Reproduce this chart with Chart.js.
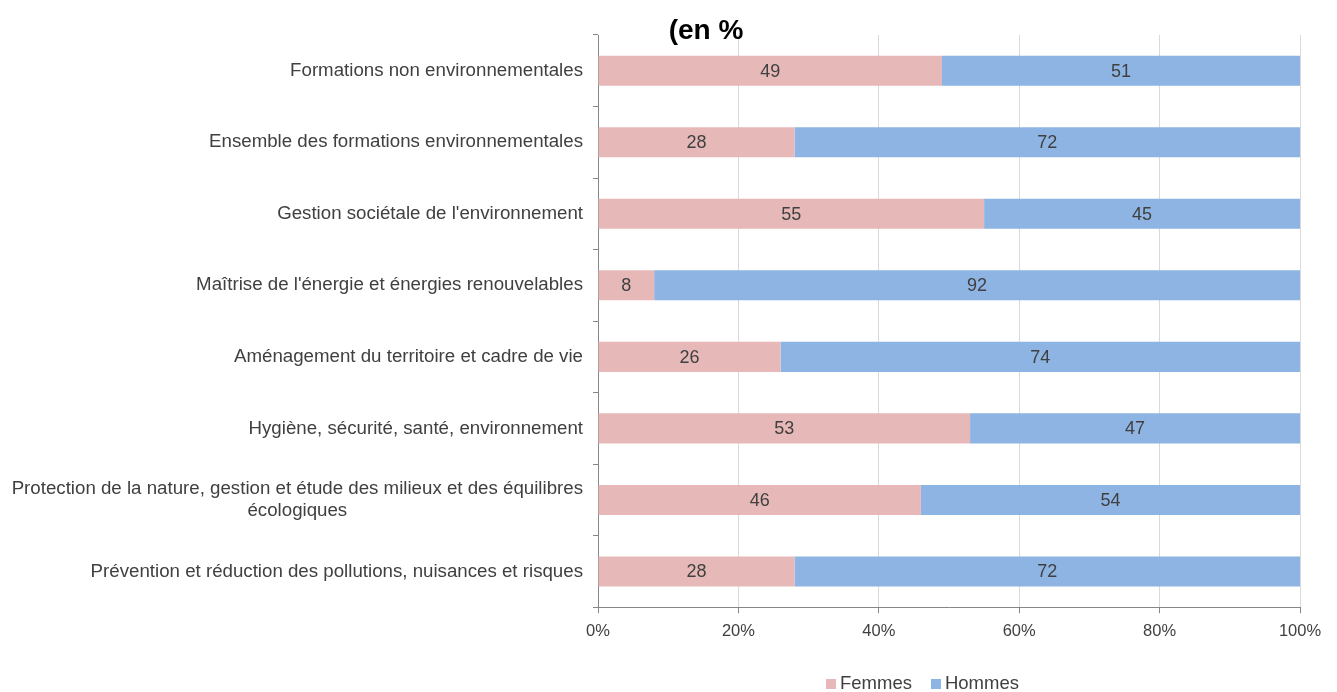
<!DOCTYPE html>
<html lang="fr">
<head>
    <meta charset="UTF-8">
    <title>Répartition femmes / hommes par formation</title>
    <script src="https://cdn.jsdelivr.net/npm/chart.js@4.4.0/dist/chart.umd.min.js"></script>
    <style>
        body {
            margin: 0;
            background: #ffffff;
        }
        .wrap {
            position: relative;
            width: 1337px;
            height: 692px;
        }
    </style>
</head>
<body>
    <div class="wrap">
        <canvas id="chart" width="1337" height="692"></canvas>
    </div>

    <script>
        const categories = [
            'Formations non environnementales',
            'Ensemble des formations environnementales',
            'Gestion sociétale de l\'environnement',
            'Maîtrise de l\'énergie et énergies renouvelables',
            'Aménagement du territoire et cadre de vie',
            'Hygiène, sécurité, santé, environnement',
            ['Protection de la nature, gestion et étude des milieux et des équilibres', 'écologiques'],
            'Prévention et réduction des pollutions, nuisances et risques'
        ];
        const femmes = [49, 28, 55, 8, 26, 53, 46, 28];
        const hommes = [51, 72, 45, 92, 74, 47, 54, 72];
        const xTicks = [0, 20, 40, 60, 80, 100];
        const titleText = '(en %';

        const textColor = '#404040';
        const fontFamily = '"Liberation Sans", Arial, sans-serif';
        const labelSize = 18.7;
        const labelLine = 22.4;
        const labelPad = 15;

        // values written in the middle of each bar segment
        const barValues = {
            id: 'barValues',
            afterDatasetsDraw(chart) {
                const ctx = chart.ctx;
                ctx.save();
                ctx.font = '18px ' + fontFamily;
                ctx.fillStyle = textColor;
                ctx.textAlign = 'center';
                ctx.textBaseline = 'middle';
                chart.data.datasets.forEach((ds, i) => {
                    chart.getDatasetMeta(i).data.forEach((bar, j) => {
                        const cx = (bar.x + bar.base) / 2;
                        ctx.fillText(ds.data[j], cx, bar.y + 1);
                    });
                });
                ctx.restore();
            }
        };

        // continuation lines of long category names, centred under their first line
        const wrappedLabels = {
            id: 'wrappedLabels',
            afterDraw(chart) {
                const ctx = chart.ctx;
                const y = chart.scales.y;
                ctx.save();
                ctx.font = labelSize + 'px ' + fontFamily;
                ctx.fillStyle = textColor;
                ctx.textAlign = 'center';
                ctx.textBaseline = 'middle';
                categories.forEach((label, i) => {
                    if (!Array.isArray(label)) return;
                    const right = y.right - labelPad;
                    const w = ctx.measureText(label[0]).width;
                    const cy = y.getPixelForValue(i) - (label.length - 1) * labelLine / 2;
                    for (let k = 1; k < label.length; k++) {
                        ctx.fillText(label[k], right - w / 2, cy + k * labelLine);
                    }
                });
                ctx.restore();
            }
        };

        // title and legend drawn on top of the chart
        const extras = {
            id: 'extras',
            afterDraw(chart) {
                const ctx = chart.ctx;
                ctx.save();
                ctx.font = 'bold 28px ' + fontFamily;
                ctx.fillStyle = '#000000';
                ctx.textAlign = 'center';
                ctx.textBaseline = 'middle';
                ctx.fillText(titleText, 706, 31);

                ctx.font = '18.5px ' + fontFamily;
                ctx.textAlign = 'left';
                let x = 826;
                const y = 684;
                chart.data.datasets.forEach(ds => {
                    ctx.fillStyle = ds.backgroundColor;
                    ctx.fillRect(x, y - 5, 10, 10);
                    ctx.fillStyle = textColor;
                    ctx.fillText(ds.label, x + 14, y);
                    x += 14 + ctx.measureText(ds.label).width + 19;
                });
                ctx.restore();
            }
        };

        new Chart(document.getElementById('chart'), {
            type: 'bar',
            data: {
                labels: categories,
                datasets: [
                    { label: 'Femmes', data: femmes, backgroundColor: '#e6b9b8' },
                    { label: 'Hommes', data: hommes, backgroundColor: '#8db4e2' }
                ]
            },
            options: {
                indexAxis: 'y',
                responsive: false,
                animation: false,
                layout: { padding: { top: 35, right: 37, bottom: 43, left: 0 } },
                datasets: {
                    bar: { barPercentage: 0.42, categoryPercentage: 1 }
                },
                scales: {
                    x: {
                        stacked: true,
                        min: 0,
                        max: 100,
                        afterBuildTicks(scale) {
                            scale.ticks = xTicks.map(v => ({ value: v }));
                        },
                        ticks: {
                            callback: v => v + '%',
                            color: textColor,
                            font: { family: fontFamily, size: 16.5 },
                            padding: 8,
                            maxRotation: 0
                        },
                        grid: { color: '#d9d9d9', tickLength: 6, tickColor: '#868686' },
                        border: { color: '#868686' }
                    },
                    y: {
                        stacked: true,
                        afterFit(scale) { scale.width = 598; },
                        ticks: {
                            // first line only; the rest is drawn centred by wrappedLabels
                            callback(v) {
                                const label = categories[v];
                                return Array.isArray(label) ? [label[0], ...label.slice(1).map(() => '')] : label;
                            },
                            color: textColor,
                            font: { family: fontFamily, size: labelSize, lineHeight: labelLine / labelSize },
                            padding: 10
                        },
                        grid: { drawOnChartArea: false, tickLength: 5, tickColor: '#868686' },
                        border: { color: '#868686' }
                    }
                },
                plugins: {
                    legend: { display: false },
                    tooltip: { enabled: false }
                }
            },
            plugins: [barValues, wrappedLabels, extras]
        });
    </script>
</body>
</html>
